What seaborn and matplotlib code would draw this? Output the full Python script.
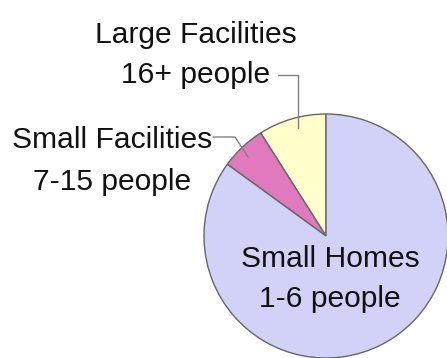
import matplotlib
matplotlib.use("Agg")
import matplotlib.pyplot as plt
import seaborn as sns

# Data
categories = ["Large Facilities\n16+ people", "Small Facilities\n7-15 people", "Small Homes\n1-6 people"]
shares = [9, 6, 85]
colors = ["#FFFFCC", "#E07ABC", "#D2D2F8"]

sns.set_theme(style="white")
plt.rcParams['font.family'] = ['Liberation Sans', 'DejaVu Sans']

W, H = 447, 358
fig = plt.figure(figsize=(W / 100, H / 100), dpi=100)
ax = fig.add_axes([0, 0, 1, 1])
ax.set_xlim(0, W)
ax.set_ylim(0, H)
ax.axis("off")

cx, cy, r = 326, H - 236, 122
ax.pie(shares, colors=colors, startangle=90, counterclock=True,
       center=(cx, cy), radius=r, frame=True,
       wedgeprops=dict(edgecolor="#666666", linewidth=1.0))
ax.set_xlim(0, W)
ax.set_ylim(0, H)
ax.axis("off")

# leader lines
lc = "#808080"
ax.plot([278, 298, 298], [H - 75, H - 75, H - 128], color=lc, lw=1.0)
ax.plot([213, 235, 248], [H - 137, H - 137, H - 157], color=lc, lw=1.0)

# labels (line by line)
label_pos = [(196, [43, 83]), (112, [148, 190]), (330, [267, 307])]
fs = 21.6
for lab, (x, bases) in zip(categories, label_pos):
    for line, b in zip(lab.split("\n"), bases):
        ax.text(x, H - b, line, ha="center", va="baseline", fontsize=fs, color="#111111")

fig.savefig("out.png", dpi=100)
